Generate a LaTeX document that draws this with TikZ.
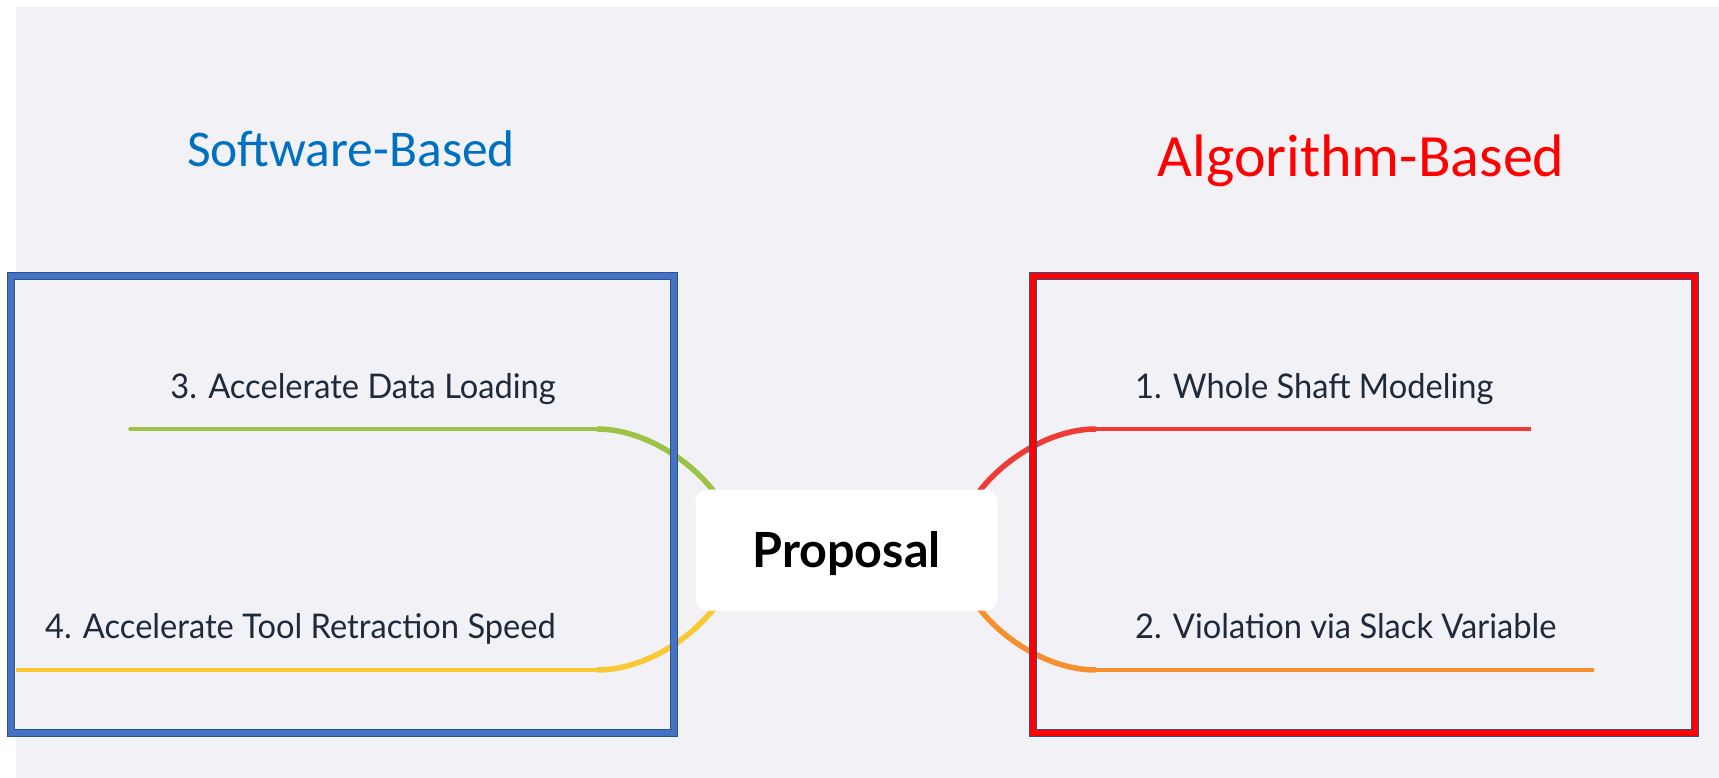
\documentclass[tikz,border=0pt]{standalone}
\usepackage{fontspec}
\setmainfont{Lato}
\newfontfamily\titlefont{Carlito}
\newfontfamily\branchfont[FakeStretch=0.96]{Lato}
\usetikzlibrary{positioning}

\definecolor{paper}{HTML}{F2F1F6}
\definecolor{ink}{HTML}{1E2A3A}
\definecolor{swblue}{HTML}{0070C0}
\definecolor{algred}{HTML}{FF0000}
\definecolor{frameblue}{HTML}{4472C4}
\definecolor{frameedge}{HTML}{2F528F}
\definecolor{twiggreen}{HTML}{9CC346}
\definecolor{twigyellow}{HTML}{F9C933}
\definecolor{twigred}{HTML}{EE3B35}
\definecolor{twigorange}{HTML}{F68F2E}

\pgfdeclarelayer{back}
\pgfdeclarelayer{links}
\pgfsetlayers{back,links,main}

\tikzset{
  root/.style={fill=white, rounded corners=12pt, minimum width=302pt,
    minimum height=121pt, text height=34pt, text depth=0pt,
    font=\bfseries\fontsize{48.5}{48.5}\selectfont},
  leaf/.style={inner sep=0pt, text=ink,
    font=\branchfont\fontsize{34}{34}\selectfont},
  heading/.style={inner sep=0pt, anchor=base, font=\titlefont},
  twig/.style={line width=5.5pt},
  branch/.style={line width=3.5pt},
  sidebox/.style={draw=frameedge, line width=1pt, double distance=6pt},
}

\begin{document}
\begin{tikzpicture}[x=1pt,y=-1pt]
  \useasboundingbox (0,0) rectangle (1719,778);

  % page and canvas
  \begin{pgfonlayer}{back}
    \fill[white] (0,0) rectangle (1719,778);
    \fill[paper] (16,7) rectangle (1719,778);
  \end{pgfonlayer}

  % central topic
  \node[root] (prop) at (846.5,550) {Proposal};

  % group headings
  \node[heading, text=swblue, font=\titlefont\fontsize{51.5}{51.5}\selectfont]
    (sw) at (351,167) {Software-Based};
  \node[heading, text=algred, font=\titlefont\fontsize{60}{60}\selectfont]
    (alg) at (1361,177) {Algorithm-Based};

  % topic labels
  \node[leaf, anchor=base east] (b3) at (556,398) {3. Accelerate Data Loading};
  \node[leaf, anchor=base east] (b4) at (556,638) {4. Accelerate Tool Retraction Speed};
  \node[leaf, anchor=base west] (b1) at (1135,398) {1. Whole Shaft Modeling};
  \node[leaf, anchor=base west] (b2) at (1135,638) {2. Violation via Slack Variable};

  % branch ends
  \coordinate (k3) at (597,429);  \coordinate (e3) at (130,429);
  \coordinate (k4) at (597,670);  \coordinate (e4) at (16,670);
  \coordinate (k1) at (1096,429); \coordinate (e1) at (1531,429);
  \coordinate (k2) at (1096,670); \coordinate (e2) at (1594,670);

  \begin{pgfonlayer}{links}
    % left side
    \draw[twig, twiggreen] ([xshift=30pt,yshift=-20pt]prop.north west)
      .. controls (705,470) and (650,429) .. (k3);
    \draw[branch, twiggreen, line cap=round] (k3) -- (e3);
    \draw[twig, twigyellow] ([xshift=30pt,yshift=20pt]prop.south west)
      .. controls (705,630) and (650,670) .. (k4);
    \draw[branch, twigyellow] (k4) -- (e4);
    % right side
    \draw[twig, twigred] ([xshift=-30pt,yshift=-20pt]prop.north east)
      .. controls (988,470) and (1043,429) .. (k1);
    \draw[branch, twigred] (k1) -- (e1);
    \draw[twig, twigorange] ([xshift=-30pt,yshift=20pt]prop.south east)
      .. controls (988,630) and (1043,670) .. (k2);
    \draw[branch, twigorange] (k2) -- (e2);
  \end{pgfonlayer}

  % group frames
  \draw[sidebox, double=frameblue] (11,276) rectangle (674,733);
  \draw[sidebox, double=algred] (1033,276) rectangle (1695,733);
\end{tikzpicture}
\end{document}
